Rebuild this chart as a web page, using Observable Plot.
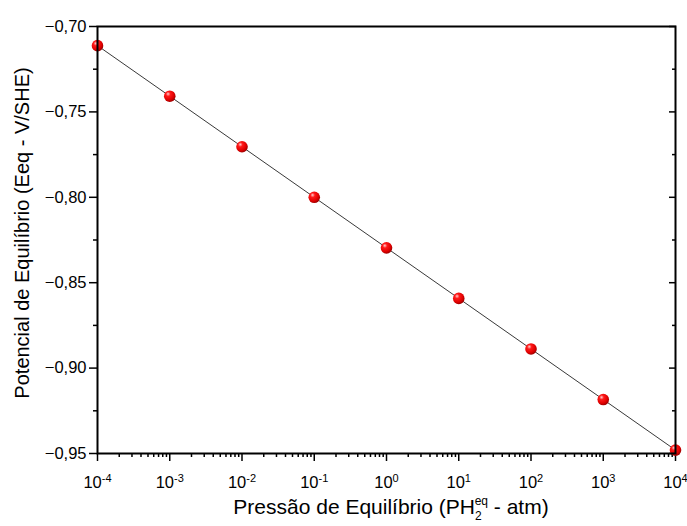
<!DOCTYPE html>
<html>
<head>
<meta charset="utf-8">
<script src="https://cdn.jsdelivr.net/npm/d3@7"></script>
<script src="https://cdn.jsdelivr.net/npm/@observablehq/plot@0.6"></script>
<style>
  html, body { margin: 0; padding: 0; background: #fff; }
  svg { display: block; }
</style>
</head>
<body>
<div id="chart"></div>
<script>
// Data
const pressures = [1e-4, 1e-3, 1e-2, 1e-1, 1e0, 1e1, 1e2, 1e3, 1e4];
const potentials = [-0.7112, -0.7408, -0.7704, -0.8000, -0.8296, -0.8592, -0.8888, -0.9184, -0.9480];
const yMajorTicks = [-0.95, -0.90, -0.85, -0.80, -0.75, -0.70];
const yMinorTicks = [-0.925, -0.875, -0.825, -0.775, -0.725];
const xMajorTicks = [1e-4, 1e-3, 1e-2, 1e-1, 1e0, 1e1, 1e2, 1e3, 1e4];
const xLabel = ["Pressão de Equilíbrio (PH", "2", "eq", " - atm)"];
const yLabel = "Potencial de Equilíbrio (Eeq - V/SHE)";

const data = pressures.map((p, i) => ({p, e: potentials[i]}));
const xMinorTicks = [];
for (let k = 0; k < xMajorTicks.length - 1; k++) {
  for (let m = 2; m <= 9; m++) xMinorTicks.push(xMajorTicks[k] * m);
}

const font = "Liberation Sans, Arial, sans-serif";
const fmtComma = d => d3.format(".2f")(d).replace(".", ",");

const chart = Plot.plot({
  width: 687,
  height: 526,
  marginLeft: 97,
  marginRight: 12,
  marginTop: 26,
  marginBottom: 73,
  style: {fontFamily: font, background: "#fff", color: "#000"},
  x: {type: "log", domain: [1e-4, 1e4]},
  y: {domain: [-0.95, -0.70]},
  marks: [
    Plot.axisY({anchor: "left", ticks: yMajorTicks, tickSize: 8, tickPadding: 3, tickFormat: fmtComma, fontSize: 16.5, label: null, strokeWidth: 1.5}),
    Plot.axisY({anchor: "left", ticks: yMinorTicks, tickSize: 4, tickFormat: () => "", label: null, strokeWidth: 1.5}),
    Plot.axisY({anchor: "right", ticks: yMajorTicks, tickSize: -7, tickFormat: () => "", label: null, strokeWidth: 1.5}),
    Plot.axisY({anchor: "right", ticks: yMinorTicks, tickSize: -4, tickFormat: () => "", label: null, strokeWidth: 1.5}),
    Plot.axisX({anchor: "bottom", ticks: xMajorTicks, tickSize: 8, tickPadding: 15, fontSize: 16.5,
      tickFormat: d => "10^" + Math.round(Math.log10(d)), label: null, strokeWidth: 1.5}),
    Plot.axisX({anchor: "bottom", ticks: xMinorTicks, tickSize: 4, tickFormat: () => "", label: null, strokeWidth: 1.5}),
    Plot.line(data, {x: "p", y: "e", stroke: "#222", strokeWidth: 0.9}),
    Plot.dot(data, {x: "p", y: "e", r: 5.8, fill: "url(#ball)", stroke: "none"}),
    Plot.frame({stroke: "#000", strokeWidth: 2})
  ]
});

const svg = d3.select(chart);
const defs = svg.insert("defs", ":first-child");
const g = defs.append("radialGradient").attr("id", "ball")
  .attr("cx", "38%").attr("cy", "35%").attr("r", "65%").attr("fx", "35%").attr("fy", "30%");
g.append("stop").attr("offset", "0%").attr("stop-color", "#ffd0d0");
g.append("stop").attr("offset", "30%").attr("stop-color", "#ff1a1a");
g.append("stop").attr("offset", "75%").attr("stop-color", "#e00000");
g.append("stop").attr("offset", "100%").attr("stop-color", "#a00000");

// superscript exponents on x tick labels
svg.selectAll('g[aria-label="x-axis tick label"] text').each(function() {
  const t = d3.select(this);
  const s = t.text();
  if (!s.startsWith("10^")) return;
  const exp = s.slice(3);
  t.text(null);
  t.append("tspan").text("10");
  t.append("tspan").attr("dy", "-0.55em").attr("font-size", "11px").text(exp);
});

// axis titles
svg.append("text")
  .attr("x", 391).attr("y", 514)
  .attr("text-anchor", "middle")
  .attr("font-family", font).attr("font-size", 21).attr("fill", "#000")
  .call(t => {
    t.append("tspan").text(xLabel[0]);
    t.append("tspan").attr("font-size", 12).attr("dy", 6).text(xLabel[1]);
    t.append("tspan").attr("font-size", 12).attr("dx", -7).attr("dy", -15).text(xLabel[2]);
    t.append("tspan").attr("dy", 9).text(xLabel[3]);
  });

svg.append("text")
  .attr("transform", "translate(29,233) rotate(-90)")
  .attr("text-anchor", "middle")
  .attr("font-family", font).attr("font-size", 20).attr("fill", "#000")
  .text(yLabel);

document.getElementById("chart").appendChild(chart);
</script>
</body>
</html>
